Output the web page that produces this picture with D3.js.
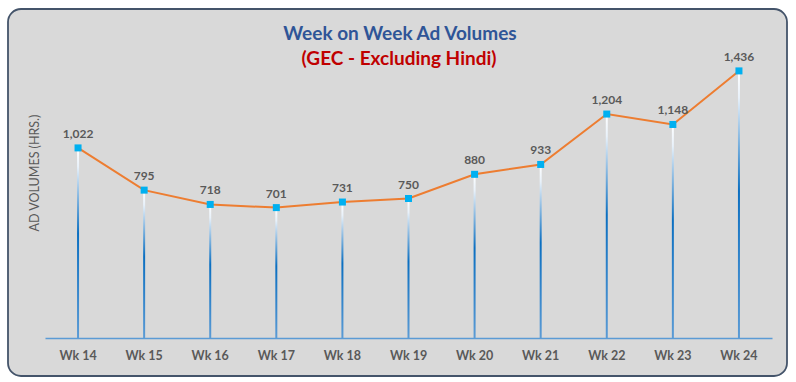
<!DOCTYPE html>
<html><head><meta charset="utf-8">
<script src="https://cdn.jsdelivr.net/npm/d3@7"></script>
<style>html,body{margin:0;padding:0;background:#fff;}svg{display:block;}</style>
</head><body>
<script>
const weeks = ["Wk 14","Wk 15","Wk 16","Wk 17","Wk 18","Wk 19","Wk 20","Wk 21","Wk 22","Wk 23","Wk 24"];
const volumes = [1022, 795, 718, 701, 731, 750, 880, 933, 1204, 1148, 1436];
const titleText = "Week on Week Ad Volumes";
const subtitleText = "(GEC - Excluding Hindi)";
const yAxisLabel = "AD VOLUMES (HRS.)";

const W = 796, H = 382;
const font = "Lato, 'Open Sans', sans-serif";
const svg = d3.select("body").append("svg").attr("width", W).attr("height", H);

const defs = svg.append("defs");
const g = defs.append("linearGradient").attr("id","drop").attr("x1",0).attr("y1",0).attr("x2",0).attr("y2",1);
g.append("stop").attr("offset","0%").attr("stop-color","#ffffff");
g.append("stop").attr("offset","10%").attr("stop-color","#e8f1fa");
g.append("stop").attr("offset","45%").attr("stop-color","#0b6fc1");
g.append("stop").attr("offset","100%").attr("stop-color","#5b9bd5");

svg.append("rect").attr("x",8).attr("y",9).attr("width",779).attr("height",367)
  .attr("rx",13).attr("ry",13).attr("fill","#d9d9d9").attr("stroke","#44546a").attr("stroke-width",1.8);

const x = d3.scaleBand().domain(weeks).range([45, 772]);
const y = d3.scaleLinear().domain([0, 1600]).range([338, 40.4]);
const cx = d => x(d) + x.bandwidth()/2;

// drop lines
svg.append("g").selectAll("rect").data(weeks).join("rect")
  .attr("x", d => cx(d) - 1).attr("width", 2)
  .attr("y", (d,i) => y(volumes[i]))
  .attr("height", (d,i) => 338 - y(volumes[i]))
  .attr("fill","url(#drop)");

// x axis
const xAxis = d3.axisBottom(x).tickSize(0).tickPadding(13);
const ax = svg.append("g").attr("transform","translate(0,338)").call(xAxis);
ax.select(".domain").attr("stroke","#5b9bd5").attr("stroke-width",1.5);
ax.selectAll("text").attr("font-family",font).attr("font-size",12.5).attr("font-weight","bold").attr("fill","#595959");

// line
const line = d3.line().x((d,i) => cx(weeks[i])).y(d => y(d));
svg.append("path").datum(volumes).attr("d", line).attr("fill","none")
  .attr("stroke","#ed7d31").attr("stroke-width",2);

// markers
svg.append("g").selectAll("rect").data(volumes).join("rect")
  .attr("x",(d,i) => cx(weeks[i]) - 3.5).attr("y", d => y(d) - 3.5)
  .attr("width",7).attr("height",7).attr("fill","#00b0f0");

// labels
svg.append("g").selectAll("text").data(volumes).join("text")
  .attr("x",(d,i) => cx(weeks[i])).attr("y", d => y(d) - 10)
  .attr("text-anchor","middle").attr("font-family",font).attr("font-size",12)
  .attr("font-weight","bold").attr("fill","#595959")
  .text(d => d3.format(",")(d));

// titles
svg.append("text").attr("x",400).attr("y",40).attr("text-anchor","middle")
  .attr("font-family",font).attr("font-size",19).attr("font-weight","bold").attr("fill","#2f5597").text(titleText);
svg.append("text").attr("x",399).attr("y",65).attr("text-anchor","middle")
  .attr("font-family",font).attr("font-size",19).attr("font-weight","bold").attr("fill","#c00000").text(subtitleText);

svg.append("text").attr("transform","translate(39,173) rotate(-90)").attr("text-anchor","middle")
  .attr("font-family",font).attr("font-size",12.5).attr("fill","#595959").text(yAxisLabel);
</script>
</body></html>
